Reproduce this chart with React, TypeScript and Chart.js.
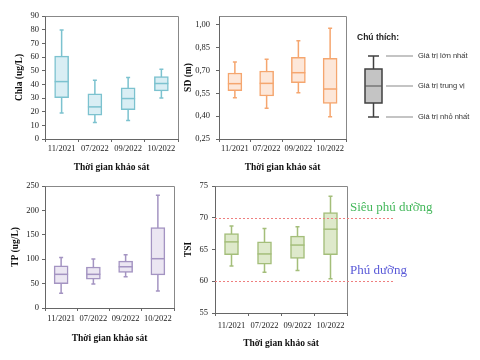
import React, { useEffect, useRef } from 'react';
import { Chart, registerables } from 'chart.js';
Chart.register(...registerables);

const categories = ['11/2021', '07/2022', '09/2022', '10/2022'];
const xAxisTitle = 'Thời gian khảo sát';

const chlaMin = [19, 12, 13.5, 30];
const chlaQ1 = [30.3, 17.4, 21.5, 35.2];
const chlaMedian = [42, 23.5, 29.6, 40.6];
const chlaQ3 = [60.6, 33, 37.4, 45.7];
const chlaMax = [79.7, 43, 45, 51];
const chlaTicks = [0, 10, 20, 30, 40, 50, 60, 70, 80, 90];

const sdMin = [0.521, 0.451, 0.554, 0.396];
const sdQ1 = [0.567, 0.532, 0.62, 0.484];
const sdMedian = [0.613, 0.615, 0.685, 0.578];
const sdQ3 = [0.683, 0.696, 0.786, 0.779];
const sdMax = [0.755, 0.773, 0.895, 0.976];
const sdTicks = [0.25, 0.4, 0.55, 0.7, 0.85, 1.0];

const tpMin = [30, 49, 64, 35];
const tpQ1 = [50, 59, 73, 68];
const tpMedian = [69, 69, 84.5, 101];
const tpQ3 = [86.5, 84, 96, 164.6];
const tpMax = [103.5, 100.5, 109, 231];
const tpTicks = [0, 50, 100, 150, 200, 250];

const tsiMin = [62.4, 61.4, 61.7, 60.4];
const tsiQ1 = [64.2, 62.7, 63.6, 64.2];
const tsiMedian = [66.2, 64.3, 65.7, 68.2];
const tsiQ3 = [67.5, 66.2, 67.1, 70.8];
const tsiMax = [68.7, 68.3, 68.6, 73.4];
const tsiTicks = [55, 60, 65, 70, 75];
const tsiThresholds = [70, 60];
const tsiThresholdLabels = ['Siêu phú dưỡng', 'Phú dưỡng'];
const tsiThresholdColors = ['#45b85c', '#5a5ad8'];

const legendTitle = 'Chú thích:';
const legendLabels = ['Giá trị lớn nhất', 'Giá trị trung vị', 'Giá trị nhỏ nhất'];

const SERIF = "'Liberation Serif', 'Times New Roman', serif";
const SANS = "'Liberation Sans', Arial, sans-serif";
const AXIS = '#666';
const FRAME = '#888';

type PanelProps = {
  left: number; top: number; width: number; height: number;
  areaLeft: number; areaTop: number; areaRight: number; areaBottom: number;
  yTitle: string; yTitlePad: number; yTickPad: number;
  xTickPad: number; xTitlePad: number;
  yMin: number; yMax: number; ticks: number[]; decimals: number;
  min: number[]; q1: number[]; median: number[]; q3: number[]; max: number[];
  stroke: string; fill: string;
  thresholds?: number[]; thresholdLabels?: string[]; thresholdColors?: string[];
  thresholdEnd?: number;
};

function BoxPanel(p: PanelProps) {
  const ref = useRef<HTMLCanvasElement | null>(null);
  useEffect(() => {
    const canvas = ref.current;
    if (!canvas) return;
    const yWidth = p.areaLeft - p.left;
    const xHeight = p.top + p.height - p.areaBottom;
    const padTop = p.areaTop - p.top;
    const padRight = p.left + p.width - p.areaRight;

    const whiskerPlugin = {
      id: 'whiskers',
      beforeDatasetsDraw(chart: any) {
        const meta = chart.getDatasetMeta(0);
        const ys = chart.scales.y;
        const ctx = chart.ctx;
        ctx.save();
        ctx.strokeStyle = p.stroke;
        ctx.lineWidth = 1.5;
        meta.data.forEach((bar: any, i: number) => {
          const x = bar.x;
          const yMx = ys.getPixelForValue(p.max[i]);
          const yMn = ys.getPixelForValue(p.min[i]);
          ctx.beginPath();
          ctx.moveTo(x, yMx); ctx.lineTo(x, yMn);
          ctx.moveTo(x - 2, yMx); ctx.lineTo(x + 2, yMx);
          ctx.moveTo(x - 2, yMn); ctx.lineTo(x + 2, yMn);
          ctx.stroke();
        });
        ctx.restore();
      },
      afterDatasetsDraw(chart: any) {
        const meta = chart.getDatasetMeta(0);
        const ys = chart.scales.y;
        const ctx = chart.ctx;
        ctx.save();
        ctx.strokeStyle = p.stroke;
        ctx.lineWidth = 1.5;
        meta.data.forEach((bar: any, i: number) => {
          const y = ys.getPixelForValue(p.median[i]);
          const w = bar.width / 2;
          ctx.beginPath();
          ctx.moveTo(bar.x - w, y); ctx.lineTo(bar.x + w, y);
          ctx.stroke();
        });
        ctx.restore();
      },
      afterDraw(chart: any) {
        const a = chart.chartArea;
        const ctx = chart.ctx;
        const ys = chart.scales.y;
        ctx.save();
        ctx.strokeStyle = FRAME;
        ctx.lineWidth = 1;
        const L = Math.round(a.left) + 0.5, T = Math.round(a.top) + 0.5, R = Math.round(a.right) + 0.5;
        ctx.beginPath();
        ctx.moveTo(L, T); ctx.lineTo(R, T); ctx.lineTo(R, Math.round(a.bottom));
        ctx.stroke();
        if (p.thresholds) {
          p.thresholds.forEach((t, i) => {
            const y = Math.round(ys.getPixelForValue(t)) + 0.5;
            ctx.strokeStyle = '#ee7f7f';
            ctx.lineWidth = 1.2;
            ctx.setLineDash([2, 2]);
            ctx.beginPath();
            ctx.moveTo(a.left, y);
            ctx.lineTo(a.left + (p.thresholdEnd || 0), y);
            ctx.stroke();
            ctx.setLineDash([]);
            ctx.fillStyle = p.thresholdColors ? p.thresholdColors[i] : '#000';
            ctx.font = `13px ${SERIF}`;
            ctx.textBaseline = 'middle';
            ctx.textAlign = 'left';
            ctx.fillText(p.thresholdLabels ? p.thresholdLabels[i] : '', a.right + 3, y - 11);
          });
        }
        ctx.restore();
      },
    };

    const chart = new Chart(canvas, {
      type: 'bar',
      data: {
        labels: categories,
        datasets: [{
          data: categories.map((_, i) => [p.q1[i], p.q3[i]]) as any,
          backgroundColor: p.fill,
          borderColor: p.stroke,
          borderWidth: 1.5,
          borderSkipped: false,
          barThickness: 14,
        }],
      },
      options: {
        responsive: false,
        animation: false,
        events: [],
        layout: { padding: { top: padTop, right: padRight, left: 0, bottom: 0 } },
        plugins: { legend: { display: false }, tooltip: { enabled: false } },
        scales: {
          x: {
            grid: { display: true, drawOnChartArea: false, drawTicks: true, tickLength: 3, color: AXIS, offset: true },
            border: { display: true, color: AXIS, width: 1 },
            ticks: { color: '#222', padding: p.xTickPad, font: { family: SERIF, size: 8.5 }, maxRotation: 0, autoSkip: false },
            title: { display: true, text: xAxisTitle, color: '#111', font: { family: SERIF, size: 9.5, weight: 'bold' }, padding: { top: 0, bottom: p.xTitlePad } },
            afterFit: (s: any) => { s.height = xHeight; },
          },
          y: {
            min: p.yMin,
            max: p.yMax,
            grid: { display: true, drawOnChartArea: false, drawTicks: true, tickLength: 3, color: AXIS },
            border: { display: true, color: AXIS, width: 1 },
            ticks: {
              color: '#222', padding: p.yTickPad, font: { family: SERIF, size: 8.5 },
              callback: (v: any) => Number(v).toFixed(p.decimals).replace('.', ','),
            },
            afterBuildTicks: (s: any) => { s.ticks = p.ticks.map((v) => ({ value: v })); },
            title: { display: true, text: p.yTitle, color: '#111', font: { family: SERIF, size: 9.5, weight: 'bold' }, padding: { top: p.yTitlePad, bottom: 0 } },
            afterFit: (s: any) => { s.width = yWidth; },
          },
        },
      } as any,
      plugins: [whiskerPlugin],
    });
    return () => chart.destroy();
  }, []);
  return (
    <canvas
      ref={ref}
      width={p.width}
      height={p.height}
      style={{ position: 'absolute', left: p.left, top: p.top, width: p.width, height: p.height }}
    />
  );
}

function Legend() {
  const ys = [56, 86, 117];
  return (
    <svg width={140} height={110} viewBox="340 20 140 110" style={{ position: 'absolute', left: 340, top: 20 }}>
      <text x={357} y={38} fontFamily={SANS} fontSize={8.5} fontWeight="bold" fill="#222" dominantBaseline="middle">{legendTitle}</text>
      <line x1={373.5} y1={56} x2={373.5} y2={117} stroke="#404040" strokeWidth={1.5} />
      <line x1={368} y1={56} x2={379} y2={56} stroke="#404040" strokeWidth={1.5} />
      <line x1={368} y1={117} x2={379} y2={117} stroke="#404040" strokeWidth={1.5} />
      <rect x={365} y={69} width={17} height={34} fill="#c4c4c4" stroke="#404040" strokeWidth={1.5} />
      <line x1={365} y1={86} x2={382} y2={86} stroke="#505050" strokeWidth={1} />
      {ys.map((y, i) => (
        <g key={i}>
          <line x1={386} y1={y} x2={413} y2={y} stroke="#b0b0b0" strokeWidth={1.5} />
          <text x={418} y={y} fontFamily={SANS} fontSize={7.5} fill="#333" dominantBaseline="middle">{legendLabels[i]}</text>
        </g>
      ))}
    </svg>
  );
}

export default function App() {
  return (
    <div style={{ position: 'absolute', left: 0, top: 0, width: 480, height: 360, background: '#fff', overflow: 'hidden' }}>
      <BoxPanel
        left={0} top={0} width={180} height={180}
        areaLeft={45} areaTop={16} areaRight={178} areaBottom={139}
        yTitle="Chla (ug/L)" yTitlePad={14} yTickPad={3} xTickPad={2} xTitlePad={7}
        yMin={0} yMax={90} ticks={chlaTicks} decimals={0}
        min={chlaMin} q1={chlaQ1} median={chlaMedian} q3={chlaQ3} max={chlaMax}
        stroke="#7cc2cf" fill="#d9eef4"
      />
      <BoxPanel
        left={170} top={0} width={180} height={180}
        areaLeft={219} areaTop={16} areaRight={346} areaBottom={139}
        yTitle="SD (m)" yTitlePad={13} yTickPad={6} xTickPad={2} xTitlePad={7}
        yMin={0.25} yMax={1.057} ticks={sdTicks} decimals={2}
        min={sdMin} q1={sdQ1} median={sdMedian} q3={sdQ3} max={sdMax}
        stroke="#f5a66f" fill="#fde7d9"
      />
      <BoxPanel
        left={0} top={175} width={180} height={185}
        areaLeft={45} areaTop={186} areaRight={174} areaBottom={308}
        yTitle="TP (ug/L)" yTitlePad={10} yTickPad={3} xTickPad={3} xTitlePad={16}
        yMin={0} yMax={250} ticks={tpTicks} decimals={0}
        min={tpMin} q1={tpQ1} median={tpMedian} q3={tpQ3} max={tpMax}
        stroke="#a494c2" fill="#ebe6f2"
      />
      <BoxPanel
        left={170} top={175} width={310} height={185}
        areaLeft={215} areaTop={186} areaRight={347} areaBottom={313}
        yTitle="TSI" yTitlePad={13} yTickPad={4} xTickPad={5} xTitlePad={11}
        yMin={55} yMax={75} ticks={tsiTicks} decimals={0}
        min={tsiMin} q1={tsiQ1} median={tsiMedian} q3={tsiQ3} max={tsiMax}
        stroke="#a4be7a" fill="#dee9cb"
        thresholds={tsiThresholds} thresholdLabels={tsiThresholdLabels} thresholdColors={tsiThresholdColors}
        thresholdEnd={180}
      />
      <Legend />
    </div>
  );
}
